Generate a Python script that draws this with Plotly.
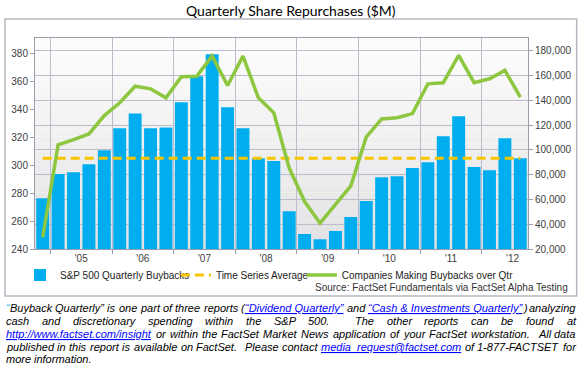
import plotly.graph_objects as go

# ---------------- data ----------------
quarters = ["Q4 2004",
            "Q1 2005", "Q2 2005", "Q3 2005", "Q4 2005",
            "Q1 2006", "Q2 2006", "Q3 2006", "Q4 2006",
            "Q1 2007", "Q2 2007", "Q3 2007", "Q4 2007",
            "Q1 2008", "Q2 2008", "Q3 2008", "Q4 2008",
            "Q1 2009", "Q2 2009", "Q3 2009", "Q4 2009",
            "Q1 2010", "Q2 2010", "Q3 2010", "Q4 2010",
            "Q1 2011", "Q2 2011", "Q3 2011", "Q4 2011",
            "Q1 2012", "Q2 2012", "Q3 2012"]

buybacks = [276.4,
            293.6, 295.0, 300.7, 310.7,
            326.4, 337.0, 326.4, 327.0,
            345.0, 363.6, 379.3, 341.4,
            326.4, 305.0, 302.9, 267.0,
            250.7, 247.0, 252.9, 262.9,
            274.3, 291.4, 292.1, 297.9,
            302.1, 320.7, 335.0, 298.6,
            296.4, 319.3, 305.0]

companies = [29500,
             104000, 108300, 112900, 127700,
             138000, 151400, 149300, 142000,
             159000, 159500, 175700, 152000,
             175700, 142000, 129900, 85300,
             58300, 40800, 55600, 71000,
             110400, 125000, 126000, 129300,
             153300, 154200, 176300, 154200,
             157400, 164100, 142500]

time_series_average = 305

year_labels = ["'05", "'06", "'07", "'08", "'09", "'10", "'11", "'12"]

left_ticks = [240, 260, 280, 300, 320, 340, 360, 380]
right_ticks = [20000, 40000, 60000, 80000, 100000, 120000, 140000, 160000, 180000]

# ---------------- helpers (layout geometry in pixels) ----------------
W_FIG, H_FIG = 587, 370
PL, PR, PT, PB = 35, 528.3, 38, 249


def px(x):
    return (x - PL) / (PR - PL)


def py(y):
    return (PB - y) / (PB - PT)


x_idx = list(range(len(quarters)))
q1_idx = [i for i, q in enumerate(quarters) if q.startswith("Q1")]
year_centers = [i + 1.5 for i in q1_idx]
year_bounds = [i - 0.5 for i in q1_idx]

GRID = "#bcbcca"
AXL = "#9c9caa"
TICKC = "#404040"
BASEFONT = "Liberation Sans, Arial, sans-serif"

fig = go.Figure()

fig.add_trace(go.Bar(
    x=x_idx, y=buybacks, name="S&P 500 Quarterly Buybacks",
    marker=dict(color="#00AEEF", line=dict(width=0)),
    yaxis="y", legend="legend"))

fig.add_trace(go.Scatter(
    x=x_idx, y=[time_series_average] * len(x_idx), name="Time Series Average",
    mode="lines", line=dict(color="#F7C600", width=3, dash="9px,5px"),
    yaxis="y", legend="legend2"))

fig.add_trace(go.Scatter(
    x=x_idx, y=companies, name="Companies Making Buybacks over Qtr",
    mode="lines", line=dict(color="#8DC63F", width=3.5),
    yaxis="y2", legend="legend3"))

# background gradient of plot area
shapes = []
N = 30
top_c = (253, 253, 253)
bot_c = (226, 226, 228)
for k in range(N):
    t = (k + 0.5) / N
    c = tuple(int(round(top_c[j] + (bot_c[j] - top_c[j]) * t)) for j in range(3))
    shapes.append(dict(type="rect", xref="x domain", yref="y domain",
                       x0=0, x1=1, y0=1 - (k + 1) / N, y1=1 - k / N,
                       fillcolor="rgb(%d,%d,%d)" % c, line=dict(width=0), layer="below"))
# chart frame
shapes.append(dict(type="rect", xref="paper", yref="paper",
                   x0=px(5), x1=px(577), y0=py(296), y1=py(19),
                   line=dict(color="#b8b8c4", width=1.5), fillcolor="rgba(0,0,0,0)"))

annotations = []
annotations.append(dict(text="Quarterly Share Repurchases ($M)", xref="paper", yref="paper",
                        x=px(291), y=py(11), xanchor="center", yanchor="middle",
                        showarrow=False, font=dict(family="Lato, Liberation Sans, sans-serif",
                                                   size=14, color="#000000")))
annotations.append(dict(text="Source: FactSet Fundamentals via FactSet Alpha Testing",
                        xref="paper", yref="paper", x=px(570), y=py(287),
                        xanchor="right", yanchor="middle", showarrow=False,
                        font=dict(family=BASEFONT, size=10, color="#333333")))

# ---------------- footnote (justified text) ----------------
AW = {' ': 278, '!': 278, '"': 355, '#': 556, '$': 556, '%': 889, '&': 667, "'": 191,
      '(': 333, ')': 333, '*': 389, '+': 584, ',': 278, '-': 333, '.': 278, '/': 278,
      ':': 278, ';': 278, '<': 584, '=': 584, '>': 584, '?': 556, '@': 1015, '[': 278,
      '\\': 278, ']': 278, '^': 469, '_': 556, '`': 333, '{': 334, '|': 260, '}': 334,
      '~': 584, '\u201c': 333, '\u201d': 333, '\u00a0': 278}
for ch in "0123456789":
    AW[ch] = 556
AW.update(dict(zip("ABCDEFGHIJKLMNOPQRSTUVWXYZ",
                   [667, 667, 722, 722, 667, 611, 778, 722, 278, 500, 667, 556, 833,
                    722, 778, 667, 778, 722, 667, 611, 722, 667, 944, 667, 667, 611])))
AW.update(dict(zip("abcdefghijklmnopqrstuvwxyz",
                   [556, 556, 500, 556, 556, 278, 556, 556, 222, 222, 500, 222, 833,
                    556, 556, 556, 556, 333, 500, 278, 556, 500, 722, 500, 500, 500])))

FS = 11


def tw(s):
    return sum(AW.get(ch, 556) for ch in s) * FS / 1000.0


foot_lines = [
    [("\u201c", "c"), ("Buyback Quarterly\u201d is one part of three reports (", "n"),
     ("\u201cDividend Quarterly\u201d", "l"), (" and ", "n"),
     ("\u201cCash & Investments Quarterly\u201d", "l"), (") analyzing", "n")],
    [("cash and discretionary spending within the S&P 500.  The other reports can be found at", "n")],
    [("http://www.factset.com/insight", "l"),
     (" or within the FactSet Market News application of your FactSet workstation.  All data", "n")],
    [("published in this report is available on FactSet.  Please contact ", "n"),
     ("media_request@factset.com", "l"), (" of 1-877-FACTSET for", "n")],
    [("more information.", "n")],
]
foot_y = [308.3, 321.4, 334.0, 346.6, 359.3]
justify = [True, True, True, True, False]
FL, FR = 6, 576

KIND_COLOR = {"n": "#000000", "c": "#00B0F0", "l": "#0000FF"}


def esc(s):
    return s.replace("&", "&amp;").replace("<", "&lt;").replace(">", "&gt;")


for segs, yy, jus in zip(foot_lines, foot_y, justify):
    chars = []
    for text, kind in segs:
        for ch in text:
            if kind == "l" and ch == " ":
                ch = "\u00a0"
            chars.append((ch, kind))
    tokens = [[]]
    for ch, kind in chars:
        if ch == " ":
            tokens.append([])
        else:
            tokens[-1].append((ch, kind))
    widths = [tw("".join(c for c, _ in tok)) for tok in tokens]
    n = len(tokens)
    if jus and n > 1:
        gap = (FR - FL - sum(widths)) / (n - 1)
    else:
        gap = tw(" ")
    xcur = FL
    for tok, wdt in zip(tokens, widths):
        runs = []
        for ch, kind in tok:
            if runs and runs[-1][1] == kind:
                runs[-1][0] += ch
            else:
                runs.append([ch, kind])
        xr = xcur
        for text, kind in runs:
            annotations.append(dict(
                text=esc(text), xref="paper", yref="paper", x=px(xr), y=py(yy),
                xanchor="left", yanchor="middle", showarrow=False,
                borderpad=0, borderwidth=0,
                font=dict(family=BASEFONT, size=FS, color=KIND_COLOR[kind], style="italic",
                          lineposition="under" if kind == "l" else "none")))
            xr += tw(text)
        xcur += wdt + gap

legend_common = dict(orientation="h", yanchor="middle", xanchor="left",
                     bgcolor="rgba(0,0,0,0)", borderwidth=0,
                     font=dict(family=BASEFONT, size=10, color="#222222"),
                     itemwidth=30)

fig.update_layout(
    width=W_FIG, height=H_FIG,
    margin=dict(l=PL, r=W_FIG - PR, t=PT, b=H_FIG - PB, pad=0, autoexpand=False),
    paper_bgcolor="#ffffff", plot_bgcolor="#ffffff",
    bargap=0.16,
    showlegend=True,
    legend=dict(x=px(20), y=py(275), **legend_common),
    legend2=dict(x=px(176), y=py(275), **legend_common),
    legend3=dict(x=px(302), y=py(275), **legend_common),
    xaxis=dict(range=[-0.5, len(quarters) - 0.5], tickmode="array",
               tickvals=year_centers, ticktext=year_labels, ticks="",
               showgrid=False, zeroline=False, showline=True, linecolor=AXL,
               linewidth=1, mirror=True,
               tickfont=dict(family=BASEFONT, size=10, color=TICKC),
               minor=dict(tickmode="array", tickvals=year_bounds, showgrid=True,
                          gridcolor=GRID, gridwidth=1, ticks="outside", ticklen=4,
                          tickcolor=AXL)),
    yaxis=dict(range=[240, 391], tickmode="array", tickvals=left_ticks,
               showgrid=False, zeroline=False, showline=True, linecolor=AXL,
               ticks="outside", ticklen=4, tickcolor=AXL,
               tickfont=dict(family=BASEFONT, size=10, color=TICKC)),
    yaxis2=dict(range=[20000, 190300], overlaying="y", side="right",
                tickmode="array", tickvals=right_ticks, tickformat=",",
                showgrid=True, gridcolor=GRID, gridwidth=1, zeroline=False,
                showline=True, linecolor=AXL, ticks="outside", ticklen=4, tickcolor=AXL,
                tickfont=dict(family=BASEFONT, size=10, color=TICKC)),
    shapes=shapes,
    annotations=annotations,
)

fig.write_html("out.html", config={"displayModeBar": False},
               post_script="document.body.style.margin='0px';")
